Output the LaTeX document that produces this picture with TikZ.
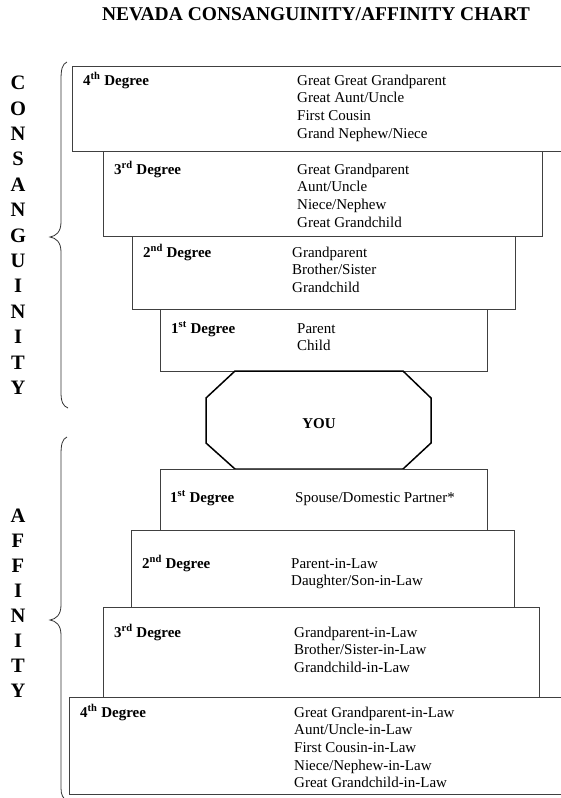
\documentclass[tikz,border=0pt]{standalone}
\usepackage{fontspec}
\setmainfont{Liberation Serif}
\begin{document}
\begin{tikzpicture}[x=1pt,y=-1pt,
  degbox/.style={draw=black!75, line width=0.9pt, inner sep=0pt, anchor=north west, rectangle},
  deg/.style={font=\fontsize{15}{18}\selectfont\bfseries, anchor=base west, inner sep=0pt},
  item/.style={font=\fontsize{15}{18}\selectfont, anchor=base west, inner sep=0pt},
  side/.style={font=\fontsize{20.5}{24}\selectfont\bfseries, anchor=center, inner sep=0pt},
  brace/.style={draw=black!80, line width=0.8pt},
  octo/.style={draw=black, line width=1.5pt, line join=miter}]
\clip (0,0) rectangle (561,798);
\fill[white] (0,0) rectangle (561,798);

% title
\node[font=\fontsize{19.5}{22}\selectfont\bfseries, anchor=base, inner sep=0pt] (title) at (316,20) {NEVADA CONSANGUINITY/AFFINITY CHART};

% side labels
\foreach \l [count=\i from 0] in {C,O,N,S,A,N,G,U,I,N,I,T,Y}
  \node[side] (cl\i) at (18,{83+25.4*\i}) {\l};
\foreach \l [count=\i from 0] in {A,F,F,I,N,I,T,Y}
  \node[side] (al\i) at (18,{516+25*\i}) {\l};

% braces
\draw[brace] (67,62) .. controls (62,64) and (61,70) .. (61,80) -- (61,222)
  .. controls (61,232) and (56,236) .. (50,237)
  .. controls (56,238) and (61,242) .. (61,252) -- (61,392)
  .. controls (61,402) and (63,406) .. (68,408);
\draw[brace] (67,437) .. controls (62,439) and (61,445) .. (61,455) -- (61,605)
  .. controls (61,615) and (56,619) .. (50,620)
  .. controls (56,621) and (61,625) .. (61,635) -- (61,788)
  .. controls (61,795) and (63,798) .. (66,800);

% consanguinity boxes
\node[degbox, minimum width=503pt, minimum height=85pt] (c4) at (72,66) {};
\node[degbox, minimum width=439pt, minimum height=85pt] (c3) at (103,151) {};
\node[degbox, minimum width=383pt, minimum height=73pt] (c2) at (132,236) {};
\node[degbox, minimum width=327pt, minimum height=62pt] (c1) at (160,309) {};

\node[deg] (c4d) at (83,85) {4\textsuperscript{th} Degree};
\foreach \t [count=\i from 0] in {Great Great Grandparent, Great Aunt/Uncle, First Cousin, Grand Nephew/Niece}
  \node[item] (c4i\i) at (297,{85+17.7*\i}) {\t};
\node[deg] (c3d) at (114,174) {3\textsuperscript{rd} Degree};
\foreach \t [count=\i from 0] in {Great Grandparent, Aunt/Uncle, Niece/Nephew, Great Grandchild}
  \node[item] (c3i\i) at (297,{174+17.7*\i}) {\t};
\node[deg] (c2d) at (143,257) {2\textsuperscript{nd} Degree};
\foreach \t [count=\i from 0] in {Grandparent, Brother/Sister, Grandchild}
  \node[item] (c2i\i) at (292,{257+17.7*\i}) {\t};
\node[deg] (c1d) at (171,333) {1\textsuperscript{st} Degree};
\foreach \t [count=\i from 0] in {Parent, Child}
  \node[item] (c1i\i) at (297,{333+17.7*\i}) {\t};

% YOU octagon
\draw[octo] (235,371) -- (403,371) -- (431,398) -- (431,443) -- (403,469) -- (235,469) -- (206,443) -- (206,398) -- cycle;
\node[font=\fontsize{15}{18}\selectfont\bfseries, inner sep=0pt] (you) at (319,424) {YOU};

% affinity boxes
\node[degbox, minimum width=327pt, minimum height=61pt] (a1) at (160,469) {};
\node[degbox, minimum width=383pt, minimum height=77pt] (a2) at (131,530) {};
\node[degbox, minimum width=436pt, minimum height=90pt] (a3) at (103,607) {};
\node[degbox, minimum width=506pt, minimum height=97pt] (a4) at (69,697) {};

\node[deg] (a1d) at (170,502) {1\textsuperscript{st} Degree};
\node[item] (a1i0) at (295,502) {Spouse/Domestic Partner*};
\node[deg] (a2d) at (142,568) {2\textsuperscript{nd} Degree};
\foreach \t [count=\i from 0] in {Parent-in-Law, Daughter/Son-in-Law}
  \node[item] (a2i\i) at (291,{568+17.7*\i}) {\t};
\node[deg] (a3d) at (114,637) {3\textsuperscript{rd} Degree};
\foreach \t [count=\i from 0] in {Grandparent-in-Law, Brother/Sister-in-Law, Grandchild-in-Law}
  \node[item] (a3i\i) at (294,{637+17.7*\i}) {\t};
\node[deg] (a4d) at (80,717) {4\textsuperscript{th} Degree};
\foreach \t [count=\i from 0] in {Great Grandparent-in-Law, Aunt/Uncle-in-Law, First Cousin-in-Law, Niece/Nephew-in-Law, Great Grandchild-in-Law}
  \node[item] (a4i\i) at (294,{717+17.7*\i}) {\t};
\end{tikzpicture}
\end{document}
